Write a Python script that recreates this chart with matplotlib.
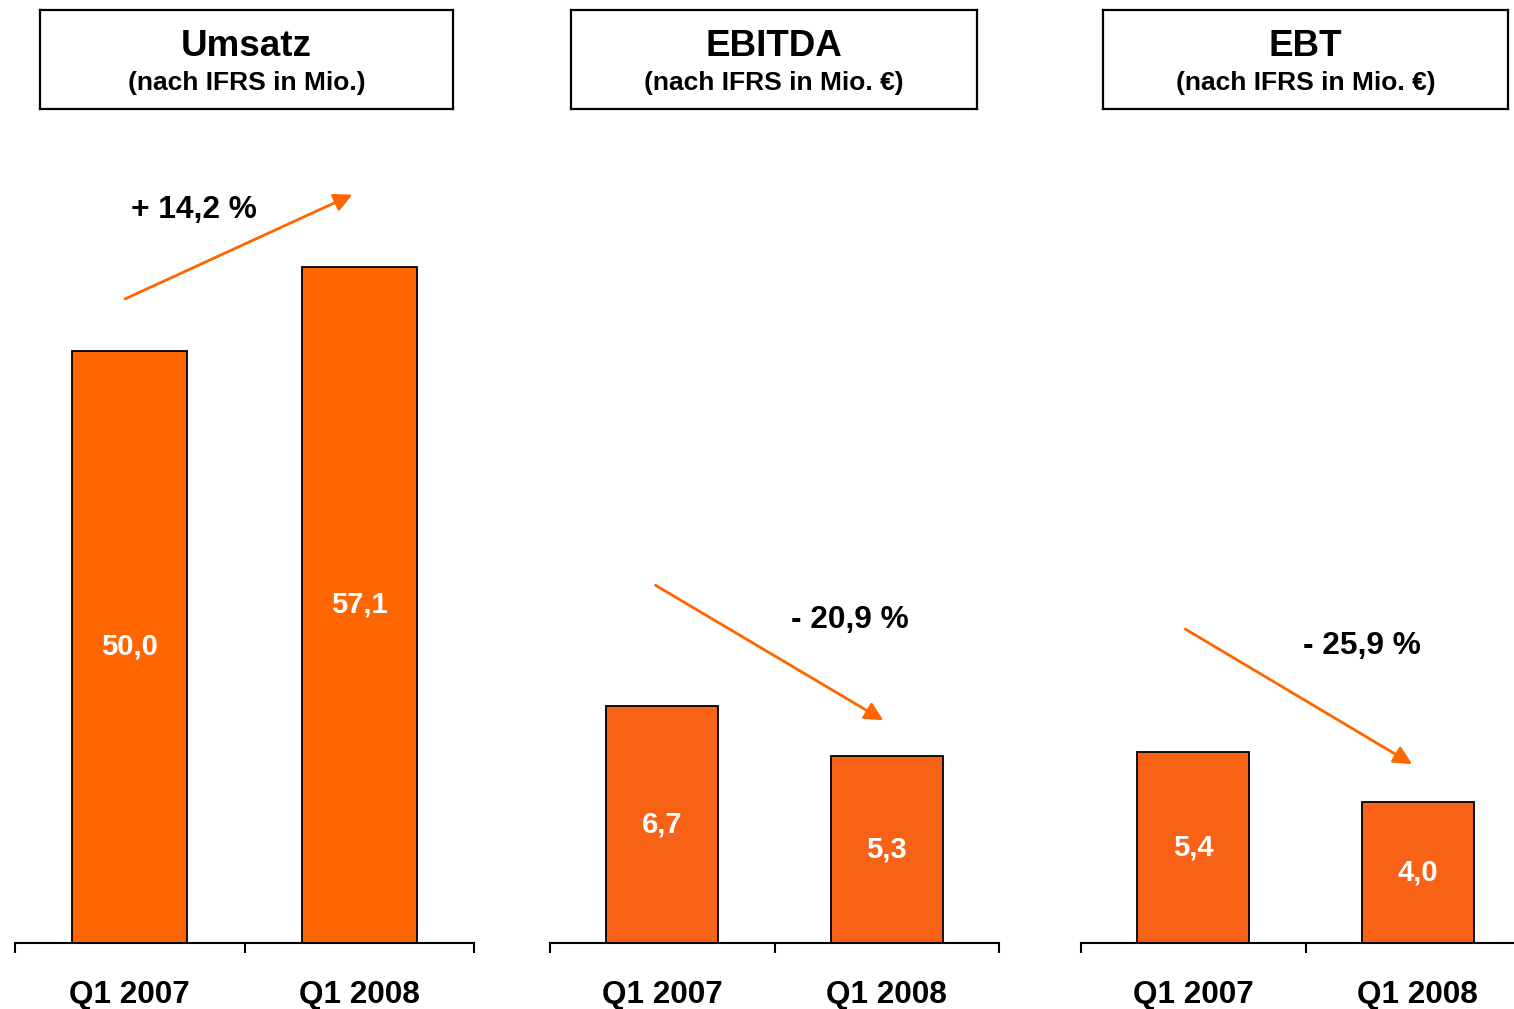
import matplotlib
matplotlib.use("Agg")
import matplotlib.pyplot as plt
from matplotlib.ticker import FixedLocator

plt.rcParams['font.family'] = ['Liberation Sans', 'DejaVu Sans']

categories = ["Q1 2007", "Q1 2008"]
titles = ["Umsatz", "EBITDA", "EBT"]
subtitles = ["(nach IFRS in Mio.)", "(nach IFRS in Mio. €)", "(nach IFRS in Mio. €)"]
umsatz = [50.0, 57.1]
ebitda = [6.7, 5.3]
ebt = [5.4, 4.0]
value_labels = [["50,0", "57,1"], ["6,7", "5,3"], ["5,4", "4,0"]]
changes = ["+ 14,2 %", "- 20,9 %", "- 25,9 %"]

series = [umsatz, ebitda, ebt]
bar_colors = ["#FF6600", "#F76216", "#F76216"]
ylim_list = [68.66, 23.0, 23.0]
# arrow start/end and text positions (data coordinates)
arrows = [((-0.02, 54.4), (0.97, 63.2)),
          ((-0.03, 10.12), (0.985, 6.30)),
          ((-0.035, 8.88), (0.975, 5.06))]
text_pos = [(0.28, 61.9), (0.835, 9.15), (0.75, 8.4)]

W, H = 1514, 1009
fig = plt.figure(figsize=(W / 100, H / 100), dpi=100)

axes_px = [(15, 474), (550, 999), (1081, 1530)]
box_px = [(40, 453), (571, 977), (1103, 1508)]
base_y = 943
top_y = 130

for i in range(3):
    x0, x1 = axes_px[i]
    ax = fig.add_axes([x0 / W, (H - base_y) / H, (x1 - x0) / W, (base_y - top_y) / H])
    xs = range(len(categories))
    ax.bar(xs, series[i], width=0.5, color=bar_colors[i], edgecolor="black", linewidth=1.3, zorder=2)
    for x, v, lab in zip(xs, series[i], value_labels[i]):
        ax.text(x, v / 2, lab, ha="center", va="center", color="white",
                fontsize=21, fontweight="bold")
    ax.set_xlim(-0.5, 1.5)
    ax.set_ylim(0, ylim_list[i])
    for s in ["left", "right", "top"]:
        ax.spines[s].set_visible(False)
    ax.spines["bottom"].set_linewidth(1.5)
    ax.set_yticks([])
    ax.xaxis.set_major_locator(FixedLocator([-0.5, 0.5, 1.5]))
    ax.xaxis.set_major_formatter(plt.NullFormatter())
    ax.xaxis.set_minor_locator(FixedLocator([0, 1]))
    ax.set_xticklabels(categories, minor=True)
    ax.tick_params(axis="x", which="major", direction="out", length=7, width=1.5)
    ax.tick_params(axis="x", which="minor", length=0, pad=26.5, labelsize=22.7)
    for t in ax.get_xticklabels(minor=True):
        t.set_fontweight("bold")
    (sx, sy), (ex, ey) = arrows[i]
    ax.annotate("", xy=(ex, ey), xytext=(sx, sy),
                arrowprops=dict(arrowstyle="-|>,head_length=1.1,head_width=0.55",
                                color="#FF6600", lw=2, shrinkA=0, shrinkB=0),
                annotation_clip=False)
    tx, ty = text_pos[i]
    ax.text(tx, ty, changes[i], ha="center", va="center", fontsize=22.8,
            fontweight="bold", color="black")

    b0, b1 = box_px[i]
    bax = fig.add_axes([b0 / W, (H - 109) / H, (b1 - b0) / W, (109 - 10) / H])
    bax.set_xticks([])
    bax.set_yticks([])
    for s in bax.spines.values():
        s.set_linewidth(1.6)
        s.set_color("black")
    bax.text(0.5, 0.63, titles[i], ha="center", va="center", fontsize=26.5,
             fontweight="bold", transform=bax.transAxes)
    bax.text(0.5, 0.26, subtitles[i], ha="center", va="center", fontsize=19,
             fontweight="bold", transform=bax.transAxes)

fig.savefig("out.png", dpi=100)
